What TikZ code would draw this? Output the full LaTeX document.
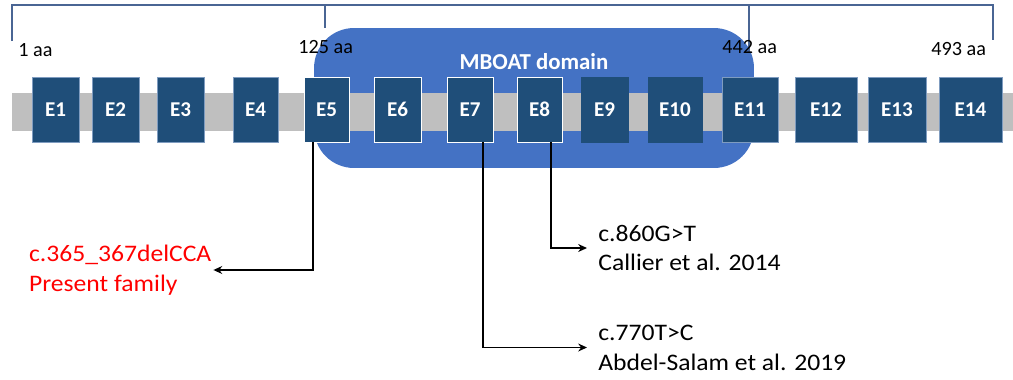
\documentclass[tikz,border=0pt]{standalone}
\usepackage{fontspec}
\setmainfont{Carlito}
\newfontfamily\widefont[FakeStretch=1.08]{Carlito}
\usetikzlibrary{arrows.meta,positioning}
\definecolor{Exon}{HTML}{1F4E79}
\definecolor{Domain}{HTML}{4472C4}
\definecolor{Backbone}{HTML}{BFBFBF}
\definecolor{Bracket}{HTML}{4A6594}
\definecolor{Faint}{HTML}{7F9CC0}
\definecolor{Mutred}{HTML}{FF0000}

\begin{document}
\begin{tikzpicture}[x=0.02cm,y=-0.02cm,
    exon/.style={fill=Exon,draw=#1,line width=0.5pt,minimum height=1.3cm,
      inner sep=0pt,text=white,font=\fontsize{12}{14}\selectfont\bfseries},
    aalabel/.style={font=\fontsize{11.5}{13}\selectfont,anchor=west,inner sep=0pt},
    variant/.style={align=left,font=\widefont\fontsize{13.5}{17}\selectfont,anchor=west},
    bracket/.style={draw=Bracket,line width=0.6pt},
    link/.style={-{Stealth[length=5pt,width=4.5pt]},line width=1pt,black}
  ]
    \useasboundingbox (0,0) rectangle (1013,379);
    \node[fill=Domain,rounded corners=0.8cm,minimum width=8.8cm,minimum height=2.8cm,
      inner sep=0pt] (mboat) at (534,98) {};
    \node[text=white,font=\fontsize{13}{15}\selectfont\bfseries] (mboatlbl) at (534,62) {MBOAT domain};
    \fill[Backbone] (12,93) rectangle (1013,131);
    \foreach \n/\cx/\w/\ec in {1/55.5/0.94/Faint,2/115.5/0.94/Faint,3/180.5/0.94/Faint,
        4/255.5/0.90/Faint,5/326.5/0.90/white,6/397.5/0.94/white,7/470/0.92/white,
        8/539.5/0.90/white,9/604.5/0.94/Exon,10/675/1.08/Exon,11/750/1.12/Faint,
        12/826/1.24/Faint,13/897/1.16/Faint,14/970.5/1.26/Faint}
      \node[exon=\ec,minimum width=\w cm] (e\n) at (\cx,109.5) {E\n};
    \draw[bracket] (12,41) |- (993,5) -- (993,40);
    \draw[bracket] (325,5) -- (325,28);
    \draw[bracket] (749,5) -- (749,52);
    \node[aalabel] (aa1) at (18,50) {1 aa};
    \node[aalabel] (aa125) at (298,47) {125 aa};
    \node[aalabel] (aa442) at (722,47) {442 aa};
    \node[aalabel] (aa493) at (931,49) {493 aa};
    \node[variant,text=Mutred,inner sep=1pt] (mut1) at (27,270)
      {c.365\_367delCCA\\Present family};
    \node[variant,inner xsep=0.22cm,inner ysep=0pt] (mut2) at (587,248)
      {c.860G>T\\Callier et al. 2014};
    \node[variant,inner xsep=0.22cm,inner ysep=0pt] (mut3) at (587,347.5)
      {c.770T>C\\Abdel-Salam et al. 2019};
    \draw[link] ([xshift=-0.27cm]e5.south) |- (mut1.east);
    \draw[link] ([xshift=0.23cm]e8.south) |- (mut2.west);
    \draw[link] ([xshift=0.26cm]e7.south) |- (mut3.west);
  \end{tikzpicture}
\end{document}
